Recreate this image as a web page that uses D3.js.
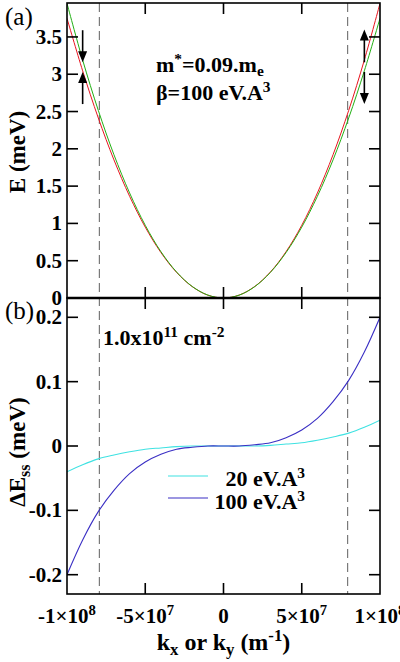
<!DOCTYPE html>
<html>
<head>
<meta charset="utf-8">
<script src="https://cdn.jsdelivr.net/npm/d3@7"></script>
<style>
  body { margin: 0; background: #fff; }
  text { font-family: 'Liberation Serif', 'DejaVu Serif', serif; }
</style>
</head>
<body>
<div id="chart"></div>
<script>
// k en unites de 1e8 m^-1
const kVals = [-1, -0.9, -0.8, -0.7, -0.6, -0.5, -0.4, -0.3, -0.2, -0.1, 0,
               0.1, 0.2, 0.3, 0.4, 0.5, 0.6, 0.7, 0.8, 0.9, 1];
// panneau (a) : energies en meV
const eRed   = [3.75, 3.046, 2.413, 1.852, 1.364, 0.950, 0.610, 0.344, 0.153, 0.038, 0,
                0.039, 0.155, 0.349, 0.622, 0.975, 1.408, 1.921, 2.515, 3.191, 3.95];
const eGreen = [3.95, 3.191, 2.515, 1.921, 1.408, 0.975, 0.622, 0.349, 0.155, 0.039, 0,
                0.038, 0.153, 0.344, 0.610, 0.950, 1.364, 1.852, 2.413, 3.046, 3.75];
// panneau (b) : Delta E_ss en meV
const dE20  = [-0.04, -0.029, -0.020, -0.014, -0.009, -0.005, -0.003, -0.001, 0, 0, 0,
               0, 0, 0.001, 0.003, 0.005, 0.009, 0.014, 0.020, 0.029, 0.04];
const dE100 = [-0.2, -0.146, -0.102, -0.069, -0.043, -0.025, -0.013, -0.005, -0.002, 0, 0,
               0, 0.002, 0.005, 0.013, 0.025, 0.043, 0.069, 0.102, 0.146, 0.2];
const kFermi = 0.793; // 1.0x10^11 cm^-2
const xTicks = [-1, -0.5, 0, 0.5, 1];
const xTickLabels = [["-1\u00d710", "8"], ["-5\u00d710", "7"], ["0", ""], ["5\u00d710", "7"], ["1\u00d710", "8"]];
const yTicksA = [0, 0.5, 1, 1.5, 2, 2.5, 3, 3.5];
const yTicksB = [-0.2, -0.1, 0, 0.1, 0.2];

const width = 400, height = 662;
const left = 67, right = 380;
const topA = 3, mid = 298, botB = 594;
const serif = "'Liberation Serif', 'DejaVu Serif', serif";
const tickFont = 21;

const svg = d3.select("#chart").append("svg")
    .attr("width", width)
    .attr("height", height)
    .attr("font-family", serif);

const x = d3.scaleLinear().domain([-1, 1]).range([left, right]);
const yA = d3.scaleLinear().domain([0, 3.955]).range([mid, topA]);
const yB = d3.scaleLinear().domain([-0.23, 0.23]).range([botB, mid]);

// clips
const defs = svg.append("defs");
defs.append("clipPath").attr("id", "clipA").append("rect")
    .attr("x", left).attr("y", topA).attr("width", right - left).attr("height", mid - topA);
defs.append("clipPath").attr("id", "clipB").append("rect")
    .attr("x", left).attr("y", mid).attr("width", right - left).attr("height", botB - mid);

// texte avec indices / exposants
function rich(sel, parts, size) {
    let shift = 0;
    sel.attr("font-family", serif);
    parts.forEach(p => {
        const kind = p[1];
        const target = kind === "sup" ? -0.36 * size : kind === "sub" ? 0.2 * size : 0;
        sel.append("tspan")
            .attr("dy", target - shift)
            .attr("font-size", kind ? size * 0.7 : size)
            .text(p[0]);
        shift = target;
    });
}

// lignes pointillees k_F
[-kFermi, kFermi].forEach(k => {
    svg.append("line")
        .attr("x1", x(k)).attr("x2", x(k))
        .attr("y1", topA).attr("y2", botB)
        .attr("stroke", "#7a7a7a")
        .attr("stroke-width", 1.2)
        .attr("stroke-dasharray", "9,5");
});

// courbes (a)
const lineA = d3.line().x((d, i) => x(kVals[i])).y(d => yA(d)).curve(d3.curveCatmullRom.alpha(0.5));
const gA = svg.append("g").attr("clip-path", "url(#clipA)");
gA.append("path").attr("d", lineA(eRed)).attr("fill", "none").attr("stroke", "#e8141e").attr("stroke-width", 1);
gA.append("path").attr("d", lineA(eGreen)).attr("fill", "none").attr("stroke", "#22b014").attr("stroke-width", 1);

// courbes (b)
const lineB = d3.line().x((d, i) => x(kVals[i])).y(d => yB(d)).curve(d3.curveCatmullRom.alpha(0.5));
const gB = svg.append("g").attr("clip-path", "url(#clipB)");
gB.append("path").attr("d", lineB(dE20)).attr("fill", "none").attr("stroke", "#3fe2e2").attr("stroke-width", 1.1);
gB.append("path").attr("d", lineB(dE100)).attr("fill", "none").attr("stroke", "#3a2fc4").attr("stroke-width", 1.1);

// cadres et graduations
const tickLen = 11;
function frame(y0, y1) {
    svg.append("rect")
        .attr("x", left).attr("y", y0)
        .attr("width", right - left).attr("height", y1 - y0)
        .attr("fill", "none").attr("stroke", "#000").attr("stroke-width", 1.6);
}
frame(topA, mid);
frame(mid, botB);
svg.append("line").attr("x1", left).attr("x2", right).attr("y1", mid).attr("y2", mid)
    .attr("stroke", "#000").attr("stroke-width", 2.6);

xTicks.filter(t => t > -1 && t < 1).forEach(t => {
    [[topA, tickLen], [mid, -tickLen], [mid, tickLen], [botB, -tickLen]].forEach(([y0, dy]) => {
        svg.append("line").attr("x1", x(t)).attr("x2", x(t)).attr("y1", y0).attr("y2", y0 + dy)
            .attr("stroke", "#000").attr("stroke-width", 1.6);
    });
});
function yTickLines(ticks, scale) {
    ticks.forEach(t => {
        [[left, tickLen], [right, -tickLen]].forEach(([x0, dx]) => {
            svg.append("line").attr("x1", x0).attr("x2", x0 + dx).attr("y1", scale(t)).attr("y2", scale(t))
                .attr("stroke", "#000").attr("stroke-width", 1.6);
        });
    });
}
yTickLines(yTicksA.filter(t => t > 0), yA);
yTickLines(yTicksB.filter(t => t > -0.23), yB);

// etiquettes y
yTicksA.forEach(t => {
    svg.append("text").attr("x", 62).attr("y", yA(t) + 7)
        .attr("text-anchor", "end").attr("font-family", serif)
        .attr("font-size", tickFont).attr("font-weight", "bold")
        .text(t);
});
yTicksB.forEach(t => {
    svg.append("text").attr("x", 62).attr("y", yB(t) + 7)
        .attr("text-anchor", "end").attr("font-family", serif)
        .attr("font-size", tickFont).attr("font-weight", "bold")
        .text(t);
});

// etiquettes x (la derniere est coupee par le bord, comme dans l'original)
xTicks.forEach((t, i) => {
    const txt = svg.append("text").attr("x", x(t)).attr("y", 623)
        .attr("text-anchor", "middle").attr("font-weight", "bold");
    rich(txt, [[xTickLabels[i][0], null], [xTickLabels[i][1], "sup"]], tickFont);
});

// titres des axes
const xt = svg.append("text").attr("x", x(0)).attr("y", 650)
    .attr("text-anchor", "middle").attr("font-weight", "bold");
rich(xt, [["k", null], ["x", "sub"], [" or k", null], ["y", "sub"], [" (m", null], ["-1", "sup"], [")", null]], 24);

const yt1 = svg.append("text").attr("transform", "translate(25," + 152 + ") rotate(-90)")
    .attr("text-anchor", "middle").attr("font-weight", "bold");
rich(yt1, [["E (meV)", null]], 23);

const yt2 = svg.append("text").attr("transform", "translate(25," + 452 + ") rotate(-90)")
    .attr("text-anchor", "middle").attr("font-weight", "bold");
rich(yt2, [["\u0394E", null], ["ss", "sub"], [" (meV)", null]], 23);

// lettres des panneaux
svg.append("text").attr("x", 5).attr("y", 25).attr("font-family", serif).attr("font-size", 25).text("(a)");
svg.append("text").attr("x", 5).attr("y", 319).attr("font-family", serif).attr("font-size", 25).text("(b)");

// annotations
const t1 = svg.append("text").attr("x", 156).attr("y", 72).attr("font-weight", "bold");
rich(t1, [["m", null], ["*", "sup"], ["=0.09.m", null], ["e", "sub"]], 22);
const t2 = svg.append("text").attr("x", 156).attr("y", 100).attr("font-weight", "bold");
rich(t2, [["\u03b2=100 eV.A", null], ["3", "sup"]], 22);
const t3 = svg.append("text").attr("x", 103).attr("y", 345).attr("font-weight", "bold");
rich(t3, [["1.0x10", null], ["11", "sup"], [" cm", null], ["-2", "sup"]], 22);

// fleches
function arrow(k, eFrom, eTo) {
    const xx = x(k), y0 = yA(eFrom), y1 = yA(eTo);
    const dir = y1 > y0 ? 1 : -1;
    svg.append("line").attr("x1", xx).attr("x2", xx).attr("y1", y0).attr("y2", y1 - dir * 9)
        .attr("stroke", "#000").attr("stroke-width", 1.6);
    svg.append("path")
        .attr("d", "M" + (xx - 4.5) + "," + (y1 - dir * 11) + "L" + (xx + 4.5) + "," + (y1 - dir * 11) + "L" + xx + "," + y1 + "Z")
        .attr("fill", "#000");
}
arrow(-0.9, 3.59, 3.16);
arrow(-0.9, 2.6, 3.03);
arrow(0.9, 3.16, 3.6);
arrow(0.9, 3.03, 2.6);

// legende
const legend = [["20 eV.A", "#3fe2e2", 476, 486], ["100 eV.A", "#3a2fc4", 498, 509]];
legend.forEach(l => {
    svg.append("line").attr("x1", 168).attr("x2", 208).attr("y1", l[2]).attr("y2", l[2])
        .attr("stroke", l[1]).attr("stroke-width", 1.1);
    const lt = svg.append("text").attr("x", 305).attr("y", l[3])
        .attr("text-anchor", "end").attr("font-weight", "bold");
    rich(lt, [[l[0], null], ["3", "sup"]], 22);
});
</script>
</body>
</html>
